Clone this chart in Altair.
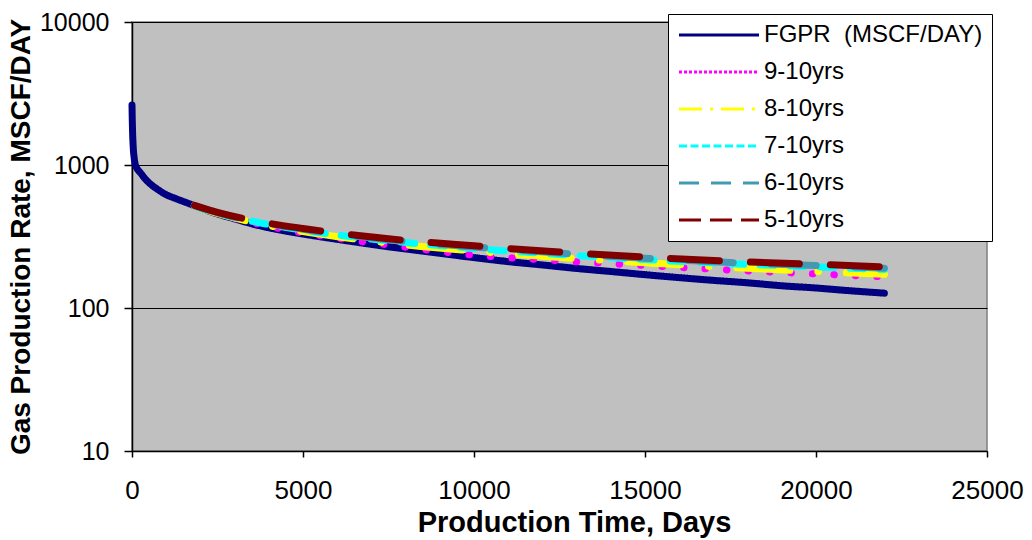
import altair as alt
import pandas as pd

# FGPR history (days, MSCF/DAY)
fgpr_days = [0, 3, 6, 10, 15, 20, 30, 40, 60, 90, 130, 180, 250, 365, 500, 730, 1000, 1300,
             1825, 2500, 3000, 3650, 4500, 5500, 6500, 7500, 8500, 10000, 11000, 12000, 13000,
             14000, 15000, 16000, 17000, 18000, 19000, 20000, 21000, 22000]
fgpr_rate = [2630, 2400, 2180, 1980, 1780, 1620, 1420, 1280, 1140, 1020, 960, 920, 880, 810, 750,
             680, 620, 580, 520, 455, 420, 380, 345, 315, 290, 268, 250, 225, 211, 200, 189,
             180, 171, 163, 156, 150, 143, 138, 132, 127]

# Forecasts
fc_days = [1825, 2500, 3650, 5000, 7500, 10000, 12500, 15000, 17500, 20000, 22000]
fc_9_10 = [520, 456, 388, 335, 276, 234, 214, 198, 184, 173, 165]
fc_8_10 = [520, 458, 392, 342, 285, 250, 226, 207, 192, 180, 172]
fc_7_10 = [520, 461, 398, 350, 295, 261, 237, 218, 204, 194, 186]
fc_6_10 = [521, 463, 402, 355, 300, 267, 242, 223, 208, 198, 190]
fc_5_10 = [522, 466, 405, 360, 305, 272, 246, 227, 212, 202, 194]

series_order = ["FGPR\u00a0 (MSCF/DAY)", "9-10yrs", "8-10yrs", "7-10yrs", "6-10yrs", "5-10yrs"]
colors = ["#000080", "#FF00FF", "#FFFF00", "#00FFFF", "#4398B2", "#800000"]
plot_dashes = [[1, 0], [0.5, 21], [53, 28, 0.5, 28], [14, 16], [45, 38], [49, 31]]
legend_dashes = [[1, 0], [3, 2], [23, 8, 3, 8], [8, 3.5], [20, 12], [22, 9]]

x_ticks = [0, 5000, 10000, 15000, 20000, 25000]
y_ticks = [10, 100, 1000, 10000]

frames = [pd.DataFrame({"day": fgpr_days, "rate": fgpr_rate, "series": series_order[0]})]
for name, vals in zip(series_order[1:], [fc_9_10, fc_8_10, fc_7_10, fc_6_10, fc_5_10]):
    frames.append(pd.DataFrame({"day": fc_days, "rate": vals, "series": name}))
df = pd.concat(frames, ignore_index=True)

x_enc = alt.X("day:Q", scale=alt.Scale(domain=[0, 25000], nice=False),
              axis=alt.Axis(values=x_ticks, format="d", title="Production Time, Days",
                            grid=False, labelFontSize=26, tickSize=6, labelPadding=20,
                            labelFlush=False, titleX=442,
                            titleFontSize=29, titleFontWeight="bold", titlePadding=5))
y_enc = alt.Y("rate:Q", scale=alt.Scale(type="log", domain=[10, 10000], nice=False),
              axis=alt.Axis(values=y_ticks, format="d", title="Gas Production Rate, MSCF/DAY",
                            grid=True, gridColor="black", gridWidth=1, labelFontSize=25,
                            tickSize=8, labelPadding=15, labelFlush=False, titleFontSize=28,
                            titleFontWeight="bold", titlePadding=4))

color_plain = alt.Color("series:N", scale=alt.Scale(domain=series_order, range=colors), legend=None)
dash_plain = alt.StrokeDash("series:N", scale=alt.Scale(domain=series_order, range=plot_dashes),
                            legend=None)

leg = alt.Legend(orient="none", legendX=536, legendY=-8, title=None,
                 fillColor="white", strokeColor="black", padding=9,
                 symbolType="M-4,0H4", symbolSize=400, symbolStrokeWidth=3,
                 symbolOffset=30, labelOffset=33, labelFontSize=24,
                 labelFont="Liberation Sans", labelColor="black",
                 rowPadding=13, labelLimit=400)
color_leg = alt.Color("series:N", scale=alt.Scale(domain=series_order, range=colors), legend=leg)
dash_leg = alt.StrokeDash("series:N", scale=alt.Scale(domain=series_order, range=legend_dashes),
                          legend=leg)

layers = []
for i, name in enumerate(series_order):
    layers.append(alt.Chart(df).transform_filter(alt.datum.series == name).mark_line(
        strokeWidth=7, strokeCap="round", interpolate="monotone"
    ).encode(x=x_enc, y=y_enc, color=color_plain, strokeDash=dash_plain))
    if i == 0:
        layers.append(alt.Chart(df).transform_filter(alt.datum.series == name).mark_point(
            shape="diamond", filled=True, size=30, color="#000080", opacity=1
        ).encode(x=x_enc, y=y_enc))

# legend-only layer (draws no data)
layers.append(alt.Chart(df).transform_filter(alt.datum.rate < 0).mark_line(
    strokeWidth=3, strokeCap="butt"
).encode(x=x_enc, y=y_enc, color=color_leg, strokeDash=dash_leg))

chart = alt.layer(*layers).resolve_scale(
    color="independent", strokeDash="independent"
).properties(
    width=855, height=429,
    autosize=alt.AutoSizeParams(type="none"),
    padding={"left": 132, "top": 22, "right": 45, "bottom": 89},
).configure_view(
    fill="#C0C0C0", stroke="#808080", strokeWidth=1.5
).configure_axis(
    domainColor="black", domainWidth=1.5, tickColor="black", tickWidth=1.5,
    labelColor="black", titleColor="black",
    labelFont="Liberation Sans", titleFont="Liberation Sans"
)

chart.save("out.html", embed_options={"renderer": "svg", "actions": False})
